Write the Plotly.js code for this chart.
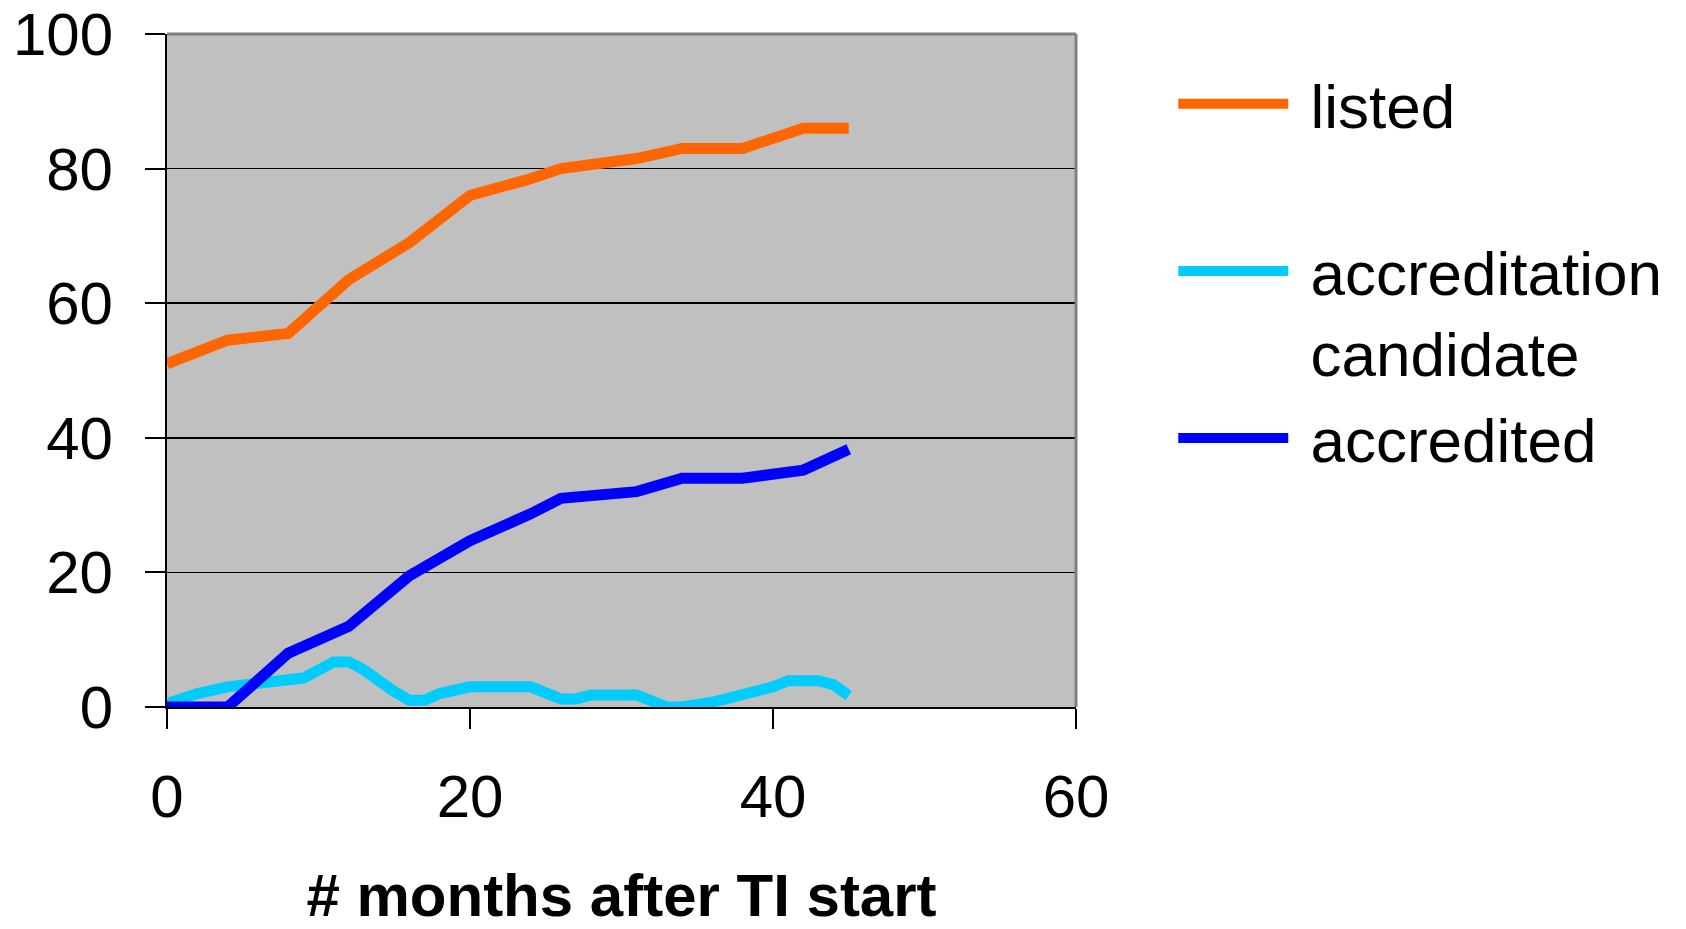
<!DOCTYPE html>
<html>
<head>
<meta charset="utf-8">
<script src="https://cdn.plot.ly/plotly-3.0.1.min.js"></script>
<style>
html,body{margin:0;padding:0;background:#fff;}
#chart{width:1686px;height:929px;}
</style>
</head>
<body>
<div id="chart"></div>
<script>
// months after TI start
var listedX = [0, 4, 8, 12, 16, 20, 24, 26, 31, 34, 38, 42, 45];
var listedY = [51, 54.5, 55.5, 63.5, 69, 76, 78.5, 80, 81.5, 83, 83, 86, 86];

var candidateX = [0, 2, 4, 8, 9, 11, 12, 13, 14, 15, 16, 17, 18, 20, 24, 25, 26, 27, 28, 31, 33, 34, 36, 40, 41, 43, 44, 45];
var candidateY = [0.5, 2, 3, 3.8, 4.3, 6.7, 6.7, 5.5, 3.7, 2.3, 1, 1, 2, 3, 3, 2.2, 1.2, 1.2, 1.8, 1.8, 0, 0, 0.7, 3, 3.9, 3.9, 3.3, 1.7];

var accreditedX = [0, 4, 8, 12, 16, 20, 24, 26, 31, 34, 38, 42, 45];
var accreditedY = [0, 0, 8, 12, 19.5, 24.7, 28.7, 31, 32, 34, 34, 35.2, 38.3];

var seriesNames = ["listed", "accreditation<br>candidate", "accredited"];
var seriesColors = ["#FF6600", "#00CCFF", "#0000FF"];
var xTickVals = [0, 20, 40, 60];
var yTickVals = [0, 20, 40, 60, 80, 100];
var xTitle = "# months after TI start";

var FONT = "Liberation Sans, Arial, sans-serif";
var NB = "\u00A0";

// legend labels: a small lead gap before the text; first entry padded to two lines
function legendLabel(name, i) {
  var lines = name.split("<br>").map(function (s) { return NB + s; });
  if (i === 0) lines.push(NB);
  return lines.join("<br>");
}

var traces = [
  {x: listedX, y: listedY, legendgroup: "a"},
  {x: candidateX, y: candidateY, legendgroup: "b"},
  {x: accreditedX, y: accreditedY, legendgroup: "c"}
].map(function (t, i) {
  t.type = "scatter";
  t.mode = "lines";
  t.name = legendLabel(seriesNames[i], i);
  t.line = {color: seriesColors[i], width: 11, shape: "linear"};
  t.hoverinfo = "x+y";
  return t;
});

var layout = {
  width: 1686,
  height: 929,
  paper_bgcolor: "#ffffff",
  plot_bgcolor: "#C0C0C0",
  margin: {l: 167, r: 610, t: 34, b: 222, pad: 0},
  font: {family: FONT, size: 60, color: "#000"},
  showlegend: true,
  legend: {
    x: 1.107, xanchor: "left",
    y: 0.966, yanchor: "top",
    bgcolor: "rgba(0,0,0,0)",
    borderwidth: 0,
    font: {family: FONT, size: 62, color: "#000"},
    traceorder: "grouped",
    tracegroupgap: 3,
    valign: "top",
    itemwidth: 110
  },
  xaxis: {
    range: [0, 60],
    tickvals: xTickVals,
    ticktext: xTickVals.map(String),
    ticks: "outside",
    ticklen: 20,
    tickwidth: 2,
    tickcolor: "#000",
    showgrid: false,
    zeroline: false,
    showline: true,
    linecolor: "#000",
    linewidth: 2,
    ticklabelstandoff: 16,
    tickfont: {family: FONT, size: 60, color: "#000"},
    title: {
      text: "<b>" + xTitle + "</b>",
      font: {family: FONT, size: 60, color: "#000"},
      standoff: 63
    },
    fixedrange: true
  },
  yaxis: {
    range: [0, 100],
    tickvals: yTickVals,
    ticktext: yTickVals.map(String),
    ticks: "outside",
    ticklen: 20,
    tickwidth: 2,
    tickcolor: "#000",
    showgrid: true,
    gridcolor: "#000",
    gridwidth: 1.5,
    zeroline: false,
    showline: true,
    linecolor: "#000",
    linewidth: 2,
    ticklabelstandoff: 20,
    tickfont: {family: FONT, size: 60, color: "#000"},
    fixedrange: true
  },
  shapes: [
    {type: "line", xref: "paper", yref: "paper", x0: 0, x1: 1, y0: 1, y1: 1,
     line: {color: "#808080", width: 3}, layer: "above"},
    {type: "line", xref: "paper", yref: "paper", x0: 1, x1: 1, y0: 0, y1: 1,
     line: {color: "#808080", width: 3}, layer: "above"}
  ]
};

Plotly.newPlot("chart", traces, layout, {displayModeBar: false, staticPlot: true});
</script>
</body>
</html>
